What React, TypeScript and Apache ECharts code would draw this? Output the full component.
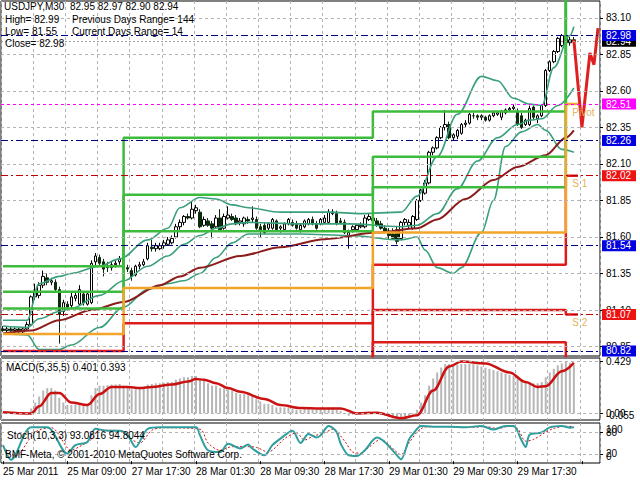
import React, { useEffect, useRef } from "react";
import * as echarts from "echarts";

const FONT = '"Liberation Sans", Arial, sans-serif';

// ---------- data ----------
const timeLabels = ["25 Mar 2011", "25 Mar 09:00", "27 Mar 17:30", "28 Mar 01:30", "28 Mar 09:30", "28 Mar 17:30", "29 Mar 01:30", "29 Mar 09:30", "29 Mar 17:30"];
const barsPerLabel = 16;
const chartShift = 6;

const opens = [80.97,80.96,80.97,80.96,80.97,80.95,80.97,81.00,81.19,81.20,81.27,81.32,81.29,81.29,81.24,81.09,81.14,81.13,81.18,81.14,81.21,81.14,81.15,81.43,81.46,81.43,81.40,81.39,81.41,81.43,
81.46,81.39,81.37,81.34,81.40,81.41,81.45,81.53,81.52,81.52,81.54,81.55,81.56,81.60,81.67,81.70,81.74,81.73,81.78,81.77,81.68,81.71,81.69,81.67,81.73,81.66,81.73,81.74,81.73,81.70,
81.69,81.72,81.72,81.72,81.67,81.68,81.66,81.66,81.71,81.66,81.65,81.69,81.70,81.69,81.65,81.67,81.69,81.72,81.69,81.69,81.70,81.70,81.76,81.76,81.71,81.70,81.61,81.65,81.65,81.67,
81.67,81.72,81.73,81.71,81.69,81.66,81.64,81.62,81.65,81.59,81.70,81.68,81.66,81.72,81.85,81.90,81.97,82.18,82.21,82.28,82.35,82.37,82.28,82.29,82.31,82.37,82.38,82.43,82.43,82.42,
82.42,82.40,82.43,82.44,82.42,82.45,82.47,82.48,82.46,82.43,82.37,82.37,82.49,82.41,82.43,82.50,82.74,82.80,82.87,82.91,82.98,82.93,82.95];
const highs = [80.99,80.99,80.99,80.98,80.98,80.98,81.02,81.20,81.28,81.29,81.37,81.35,81.32,81.31,81.26,81.17,81.16,81.22,81.23,81.27,81.23,81.23,81.44,81.49,81.48,81.45,81.43,81.43,81.44,81.47,
81.48,81.41,81.39,81.41,81.43,81.45,81.56,81.58,81.56,81.56,81.58,81.60,81.61,81.69,81.72,81.75,81.76,81.84,81.82,81.79,81.74,81.73,81.71,81.75,81.79,81.76,81.81,81.76,81.75,81.73,
81.74,81.74,81.81,81.74,81.69,81.70,81.70,81.73,81.72,81.68,81.70,81.73,81.72,81.71,81.69,81.72,81.73,81.74,81.71,81.73,81.75,81.79,81.79,81.78,81.73,81.72,81.65,81.68,81.69,81.70,
81.75,81.76,81.75,81.73,81.71,81.68,81.66,81.66,81.67,81.71,81.73,81.72,81.75,81.86,81.93,81.99,82.19,82.22,82.29,82.36,82.47,82.39,82.31,82.34,82.38,82.40,82.45,82.45,82.44,82.44,
82.43,82.44,82.46,82.46,82.47,82.48,82.49,82.51,82.48,82.45,82.41,82.50,82.50,82.44,82.51,82.75,82.81,82.88,82.97,82.99,82.99,82.97,82.97];
const lows = [80.95,80.94,80.95,80.94,80.93,80.93,80.96,80.99,81.17,81.18,81.25,81.27,81.27,81.22,80.87,81.06,81.10,81.11,81.16,81.13,81.13,81.13,81.14,81.40,81.40,81.33,81.36,81.37,81.39,81.41,
81.36,81.36,81.30,81.33,81.38,81.40,81.44,81.50,81.50,81.51,81.52,81.54,81.55,81.59,81.65,81.68,81.72,81.72,81.76,81.66,81.67,81.67,81.59,81.66,81.64,81.65,81.72,81.71,81.68,81.68,
81.67,81.69,81.70,81.65,81.60,81.62,81.64,81.65,81.64,81.63,81.64,81.68,81.67,81.65,81.63,81.66,81.68,81.68,81.65,81.68,81.69,81.69,81.75,81.68,81.69,81.62,81.52,81.63,81.64,81.66,
81.66,81.71,81.70,81.67,81.65,81.63,81.58,81.58,81.55,81.58,81.68,81.66,81.65,81.71,81.84,81.89,81.96,82.16,82.20,82.27,82.33,82.27,82.26,82.27,82.30,82.35,82.37,82.41,82.40,82.40,
82.39,82.39,82.42,82.43,82.40,82.44,82.46,82.47,82.36,82.34,82.36,82.36,82.40,82.38,82.42,82.49,82.73,82.79,82.86,82.90,82.86,82.91,82.90];
const closes = [80.96,80.97,80.96,80.97,80.95,80.97,81.00,81.19,81.22,81.27,81.33,81.29,81.30,81.24,81.07,81.15,81.12,81.19,81.20,81.24,81.15,81.21,81.42,81.47,81.42,81.38,81.39,81.41,81.42,81.45,
81.38,81.38,81.33,81.40,81.41,81.43,81.54,81.52,81.54,81.54,81.56,81.58,81.59,81.67,81.70,81.74,81.73,81.79,81.80,81.67,81.72,81.68,81.66,81.73,81.65,81.74,81.75,81.72,81.69,81.71,
81.73,81.71,81.73,81.66,81.65,81.63,81.69,81.72,81.65,81.67,81.69,81.72,81.68,81.66,81.68,81.71,81.72,81.69,81.66,81.72,81.73,81.77,81.77,81.69,81.70,81.63,81.63,81.67,81.68,81.68,
81.73,81.74,81.71,81.68,81.66,81.64,81.61,81.59,81.57,81.70,81.72,81.70,81.74,81.85,81.92,81.97,82.18,82.21,82.28,82.35,82.37,82.28,82.30,82.33,82.37,82.38,82.44,82.43,82.42,82.43,
82.40,82.43,82.45,82.45,82.46,82.47,82.48,82.49,82.37,82.35,82.40,82.48,82.42,82.43,82.50,82.74,82.80,82.87,82.96,82.98,82.93,82.95,82.94];

const priceTicks = [83.10, 82.85, 82.60, 82.35, 82.10, 81.85, 81.60, 81.35, 81.10, 80.85];

// daily pivot levels (one value per day, day starts at the given bar)
const dayStarts = [0, 30, 92, 140];
const levelsEndBar = 143;
const pivotP = [80.935, 81.25, 81.63, 82.51];
const resist1 = [81.11, 81.64, 81.94, 83.46];
const resist2 = [81.225, 81.89, 82.15, 83.95];
const resist3 = [81.40, 82.28, 82.46, 84.90];
const support1 = [80.82, 81.01, 81.41, 82.02];
const support2 = [80.645, 80.61, 81.10, 81.07];
const support3 = [80.53, 80.36, 80.88, 80.58];

// horizontal price lines
const rangeLines = [82.98, 82.26, 81.54, 80.82];
const pivotLine = 82.51;
const supportLines = [82.02, 81.07];
const bidPrice = 82.94;

// moving average and Bollinger bands: [bar, value]
const maPoints = [[0,80.94],[7,80.96],[14,81.03],[22,81.10],[30,81.155],[39,81.27],[44,81.33],[49,81.39],[59,81.47],[69,81.53],[80,81.585],[93,81.63],[103,81.66],[108,81.72],[115,81.86],[122,81.99],[128,82.08],[135,82.16],[140,82.28],[142,82.33]];
const bbUpper = [[0,81.03],[6,81.03],[9,81.28],[14,81.33],[17,81.35],[24,81.40],[29,81.45],[36,81.58],[41,81.66],[44,81.80],[49,81.87],[53,81.86],[57,81.82],[61,81.80],[69,81.77],[81,81.77],[89,81.76],[99,81.77],[103,81.88],[108,82.15],[113,82.44],[119,82.70],[123,82.67],[127,82.55],[131,82.51],[134,82.50],[137,82.76],[141,82.98],[142,83.04]];
const bbMiddle = [[0,80.99],[6,80.98],[9,81.04],[14,81.09],[17,81.11],[24,81.20],[30,81.30],[36,81.40],[41,81.47],[45,81.55],[49,81.61],[53,81.66],[57,81.69],[61,81.70],[74,81.69],[86,81.69],[99,81.67],[103,81.68],[108,81.76],[113,81.93],[118,82.12],[123,82.28],[128,82.37],[131,82.40],[134,82.41],[138,82.50],[142,82.62]];
const bbLower = [[0,80.94],[6,80.93],[9,80.83],[14,80.83],[17,80.86],[24,80.98],[30,81.12],[36,81.24],[41,81.28],[45,81.30],[49,81.35],[53,81.46],[57,81.56],[61,81.62],[74,81.62],[86,81.61],[99,81.58],[103,81.60],[105,81.51],[108,81.39],[112,81.35],[114,81.39],[119,81.63],[122,81.85],[125,82.22],[129,82.32],[133,82.37],[135,82.33],[139,82.20],[142,82.18]];
const projection = [[142,82.95],[144,82.35],[146,82.86],[147,82.78],[148,83.03]];

// MACD
const macdTicksA = [0.429, 0];
const macdTicksB = [-0.055];
const macdHist = [0.01,0.01,0.0,0.0,-0.005,0.0,0.005,
0.04,0.09,0.14,0.19,0.21,0.21,0.19,0.13,0.09,
0.07,0.07,0.075,0.08,0.07,0.075,
0.15,0.21,0.23,0.23,0.235,0.24,0.24,0.245,
0.23,0.22,0.20,0.20,0.21,0.21,
0.24,0.245,0.25,0.25,0.255,0.26,0.26,
0.28,0.29,0.30,0.30,0.31,0.31,
0.28,0.27,0.25,0.23,0.23,0.21,0.21,0.20,0.19,0.17,0.16,0.16,0.15,0.15,
0.12,0.10,0.08,0.08,0.07,0.05,0.05,0.05,0.05,0.04,0.03,0.03,0.04,0.04,0.03,0.03,0.035,0.04,
0.05,0.05,0.03,0.02,0.00,-0.02,-0.01,-0.01,-0.01,0.01,0.015,0.01,
0.0,-0.01,-0.02,-0.03,-0.04,-0.05,-0.035,-0.025,-0.02,-0.01,
0.03,0.09,0.15,0.23,0.29,0.34,0.38,0.41,0.41,0.40,
0.405,0.41,0.41,0.41,0.41,0.40,0.39,0.38,0.37,0.36,0.35,0.34,0.33,0.32,0.31,
0.29,0.27,0.26,0.26,0.25,0.25,0.26,
0.30,0.34,0.37,0.40,0.415,0.429,0.42,0.401];
const macdSignal = [[0,0.01],[7,0.0],[9,0.06],[12,0.17],[14,0.17],[17,0.09],[21,0.07],[24,0.16],[27,0.22],[31,0.22],[34,0.21],[37,0.22],[42,0.24],[46,0.265],[48,0.285],[50,0.28],[53,0.25],[56,0.21],[59,0.18],[65,0.12],[69,0.07],[74,0.045],[79,0.04],[84,0.04],[88,0.0],[93,0.005],[99,-0.04],[103,-0.015],[107,0.19],[111,0.39],[114,0.43],[120,0.415],[126,0.34],[130,0.26],[133,0.22],[135,0.225],[139,0.35],[142,0.42]];

// Stochastic
const stochTicksA = [80, 20];
const stochTop = [100];
const stochBottom = [0];
const stochMain = [[0,44],[2,4],[7,93],[11,93],[16,21],[18,44],[21,53],[23,89],[26,84],[29,84],[31,71],[33,39],[35,75],[36,89],[39,93],[48,93],[49,71],[51,30],[54,25],[56,48],[59,35],[61,46],[62,35],[65,16],[67,44],[69,62],[72,84],[74,50],[76,75],[78,65],[79,71],[81,97],[83,80],[84,48],[86,16],[88,14],[90,30],[93,65],[95,52],[98,16],[99,5],[101,60],[102,75],[104,97],[107,95],[111,95],[115,93],[119,97],[122,87],[125,97],[127,97],[129,57],[130,39],[131,73],[134,79],[136,93],[139,97],[141,92],[142,93.08]];
const stochSignal = [[0,40],[3,15],[8,80],[12,92],[17,30],[19,40],[22,60],[24,85],[27,85],[30,82],[32,60],[34,50],[37,85],[40,92],[49,88],[51,50],[54,30],[57,40],[60,40],[63,38],[66,25],[68,40],[70,62],[73,78],[75,58],[77,68],[80,78],[82,88],[85,55],[87,25],[89,22],[91,38],[94,60],[96,45],[99,18],[101,50],[103,80],[105,94],[111,95],[116,93],[120,95],[123,90],[126,96],[128,90],[130,55],[132,60],[135,80],[137,90],[140,96],[142,94.8]];

// ---------- styles ----------
const NAVY = "#00008b";
const DASHDOT = [7, 3, 2, 3];

function App() {
  const ref = useRef<HTMLDivElement>(null);
  useEffect(() => {
    const chart = echarts.init(ref.current!, null, { renderer: "svg" });
    const nCat = closes.length + chartShift;
    const categories = Array.from({ length: nCat }, (_, i) =>
      i % barsPerLabel === 0 && timeLabels[i / barsPerLabel] ? timeLabels[i / barsPerLabel] : ""
    );
    const candles = opens.map((o, i) => [o, closes[i], lows[i], highs[i]]);
    const stepData = (lv: number[]) => [
      ...dayStarts.map((s, k) => [s, lv[k]]),
      [levelsEndBar, lv[lv.length - 1]],
    ];
    const gridStyle = { color: "#b4b4b4", type: [3, 3], width: 1 };

    const xAxes = [0, 1, 2].map((g) => ({
      type: "category",
      gridIndex: g,
      data: categories,
      boundaryGap: true,
      axisLine: { show: false },
      axisTick: { show: g === 2, interval: barsPerLabel - 1, alignWithLabel: true, length: 3, lineStyle: { color: "#000" } },
      axisLabel: { show: g === 2, interval: barsPerLabel - 1, align: "left", fontSize: 10, color: "#000", margin: 3, fontFamily: FONT },
      splitLine: { show: true, interval: 7, lineStyle: gridStyle },
    }));

    const lineLabel = (bg: string) => ({
      show: true, position: "end", distance: 2, color: "#fff", backgroundColor: bg,
      padding: [1, 5, 0, 4], fontSize: 10, fontFamily: FONT,
      formatter: (p: any) => Number(p.value).toFixed(2),
    });

    const stepSeries = (name: string, lv: number[], color: string, extra: any = {}) => ({
      name, type: "line", xAxisIndex: 0, yAxisIndex: 0, data: stepData(lv), step: "end",
      symbol: "none", z: 3, lineStyle: { color, width: 2.5 }, ...extra,
    });

    const textMark = (bar: number, v: number, text: string) => ({
      coord: [bar, v], symbol: "rect", symbolSize: 1, itemStyle: { color: "transparent" },
      label: { show: true, formatter: text, position: "right", distance: 2, offset: [0, 8], color: "#e3b35a", fontSize: 10, fontFamily: FONT },
    });

    const axisLabelBase = { fontSize: 10, color: "#000", margin: 6, fontFamily: FONT, showMinLabel: true, showMaxLabel: true, hideOverlap: false };

    const sideAxis = (gridIndex: number, min: number, max: number, ticks: number[], fmt: (v: number) => string, showTicks: boolean, vAlign = "middle") => ({
      type: "value", gridIndex, position: "right", min, max,
      axisLine: { show: false }, splitLine: { show: false },
      axisTick: { show: showTicks, customValues: ticks, length: 3, lineStyle: { color: "#000" } },
      axisLabel: { ...axisLabelBase, customValues: ticks, formatter: fmt, verticalAlign: vAlign },
    });
    const macdFmt = (v: number) => (v === 0 ? "0.00" : v.toFixed(3));
    const intFmt = (v: number) => String(v);

    const option: any = {
      animation: false,
      backgroundColor: "#fff",
      textStyle: { fontFamily: FONT },
      grid: [
        { left: 1, top: 1, width: 599, height: 355, show: true, borderColor: "#000", borderWidth: 1, backgroundColor: "#fff" },
        { left: 1, top: 358, width: 599, height: 62, show: true, borderColor: "#000", borderWidth: 1, backgroundColor: "#fff" },
        { left: 1, top: 423, width: 599, height: 40, show: true, borderColor: "#000", borderWidth: 1, backgroundColor: "#fff" },
      ],
      xAxis: xAxes,
      yAxis: [
        sideAxis(0, 80.785, 83.216, priceTicks, (v) => v.toFixed(2), true),
        sideAxis(1, -0.055, 0.46, macdTicksA, macdFmt, true),
        sideAxis(2, -5, 105, stochTicksA, intFmt, true),
        sideAxis(1, -0.055, 0.46, macdTicksB, macdFmt, false, "bottom"),
        sideAxis(2, -5, 105, stochTop, intFmt, false, "top"),
        sideAxis(2, -5, 105, stochBottom, intFmt, false, "bottom"),
      ],
      series: [
        // grid lines
        {
          name: "grid0", type: "line", xAxisIndex: 0, yAxisIndex: 0, data: [], z: 0, silent: true,
          markLine: { silent: true, symbol: "none", label: { show: false }, lineStyle: gridStyle, data: priceTicks.map((v) => ({ yAxis: v })) },
        },
        {
          name: "grid1", type: "line", xAxisIndex: 1, yAxisIndex: 1, data: [], z: 0, silent: true,
          markLine: { silent: true, symbol: "none", label: { show: false }, lineStyle: gridStyle, data: macdTicksA.map((v) => ({ yAxis: v })) },
        },
        {
          name: "grid2", type: "line", xAxisIndex: 2, yAxisIndex: 2, data: [], z: 0, silent: true,
          markLine: { silent: true, symbol: "none", label: { show: false }, lineStyle: gridStyle, data: stochTicksA.map((v) => ({ yAxis: v })) },
        },
        // price level lines with coloured labels
        {
          name: "levels", type: "line", xAxisIndex: 0, yAxisIndex: 0, data: [], z: 1, silent: true,
          markLine: {
            silent: true, symbol: "none",
            data: [
              { yAxis: bidPrice, lineStyle: { color: "#a0a0a0", type: [2, 2], width: 1 }, label: lineLabel("#000000") },
              ...supportLines.map((v) => ({ yAxis: v, lineStyle: { color: "#c00000", type: DASHDOT, width: 1 }, label: lineLabel("#ee1111") })),
              { yAxis: pivotLine, lineStyle: { color: "#ff00ff", type: [3, 3], width: 1 }, label: lineLabel("#ff00ff") },
              ...rangeLines.map((v) => ({ yAxis: v, lineStyle: { color: NAVY, type: DASHDOT, width: 1 }, label: lineLabel("#0000e0") })),
            ],
          },
        },
        // candles
        {
          name: "USDJPY", type: "candlestick", xAxisIndex: 0, yAxisIndex: 0, data: candles, z: 2, barWidth: 3,
          itemStyle: { color: "#ffffff", color0: "#0c2a0c", borderColor: "#000000", borderColor0: "#0c2a0c", borderWidth: 1 },
        },
        // Bollinger bands & MA
        ...[bbUpper, bbMiddle, bbLower].map((d, k) => ({
          name: "bb" + k, type: "line", xAxisIndex: 0, yAxisIndex: 0, data: d, symbol: "none", smooth: 0.35, smoothMonotone: "x", z: 3,
          lineStyle: { color: "#3aa07c", width: 1.6 },
        })),
        {
          name: "MA", type: "line", xAxisIndex: 0, yAxisIndex: 0, data: maPoints, symbol: "none", smooth: 0.3, smoothMonotone: "x", z: 3,
          lineStyle: { color: "#8b1c1c", width: 2 },
        },
        // pivot levels
        stepSeries("R1", resist1, "#3dbb3d"),
        stepSeries("R2", resist2, "#3dbb3d"),
        stepSeries("R3", resist3, "#3dbb3d"),
        stepSeries("S3", support3, "#dd1c1c"),
        stepSeries("S2", support2, "#dd1c1c", { markPoint: { silent: true, data: [textMark(141, support2[3], "S 2")] } }),
        stepSeries("S1", support1, "#dd1c1c", { markPoint: { silent: true, data: [textMark(141, support1[3], "S 1")] } }),
        stepSeries("P", pivotP, "#f2a52a", { markPoint: { silent: true, data: [textMark(141, pivotP[3], "Pivot")] } }),
        // projection arrow
        {
          name: "projection", type: "line", xAxisIndex: 0, yAxisIndex: 0, data: projection, symbol: "none", z: 4,
          lineStyle: { color: "#e02020", width: 3 },
        },
        // MACD
        {
          name: "MACD", type: "bar", xAxisIndex: 1, yAxisIndex: 1, data: macdHist, barWidth: 2, z: 2,
          itemStyle: { color: "#b6b6b6" },
        },
        {
          name: "Signal", type: "line", xAxisIndex: 1, yAxisIndex: 1, data: macdSignal, symbol: "none", smooth: 0.35, smoothMonotone: "x", z: 3,
          lineStyle: { color: "#cc1111", width: 2.5 },
        },
        // Stochastic
        {
          name: "StochSignal", type: "line", xAxisIndex: 2, yAxisIndex: 2, data: stochSignal, symbol: "none", smooth: 0.3, z: 2,
          lineStyle: { color: "#d01010", width: 1, type: [2, 2] },
        },
        {
          name: "StochMain", type: "line", xAxisIndex: 2, yAxisIndex: 2, data: stochMain, symbol: "none", smooth: 0.3, z: 3,
          lineStyle: { color: "#2e9e9e", width: 2 },
        },
      ],
      graphic: [
        { type: "text", left: 4, top: 1, z: 10, style: { text: "USDJPY,M30  82.95 82.97 82.90 82.94", font: `10px ${FONT}`, fill: "#000" } },
        { type: "text", left: 5, top: 14, z: 10, style: { text: "High= 82.99", font: `10px ${FONT}`, fill: "#000" } },
        { type: "text", left: 72, top: 14, z: 10, style: { text: "Previous Days Range= 144", font: `10px ${FONT}`, fill: "#000" } },
        { type: "text", left: 5, top: 26, z: 10, style: { text: "Low= 81.55", font: `10px ${FONT}`, fill: "#000" } },
        { type: "text", left: 72, top: 26, z: 10, style: { text: "Current Days Range= 14", font: `10px ${FONT}`, fill: "#000" } },
        { type: "text", left: 5, top: 38, z: 10, style: { text: "Close= 82.98", font: `10px ${FONT}`, fill: "#000" } },
        { type: "text", left: 6, top: 362, z: 10, style: { text: "MACD(5,35,5) 0.401 0.393", font: `10px ${FONT}`, fill: "#000" } },
        { type: "text", left: 7, top: 430, z: 10, style: { text: "Stoch(10,3,3) 93.0816 94.8044", font: `10px ${FONT}`, fill: "#000" } },
        { type: "text", left: 5, top: 449, z: 10, style: { text: "BMF-Meta, © 2001-2010 MetaQuotes Software Corp.", font: `10px ${FONT}`, fill: "#000" } },
      ],
    };
    chart.setOption(option);
    return () => chart.dispose();
  }, []);
  return <div ref={ref} style={{ position: "absolute", left: 0, top: 0, width: 640, height: 480 }} />;
}

export default App;
